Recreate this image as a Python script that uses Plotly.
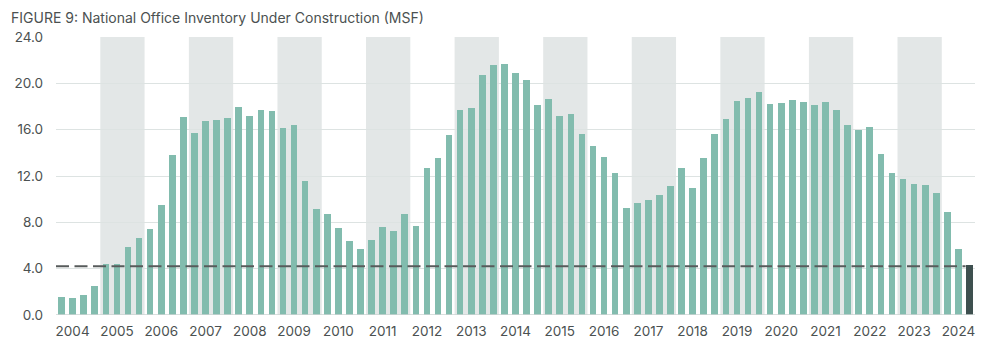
import plotly.graph_objects as go

title = "FIGURE 9: National Office Inventory Under Construction (MSF)"
years = list(range(2004, 2025))
quarters = [f"{y} Q{q}" for y in years for q in range(1, 5)][:83]
values = [
    1.55, 1.44, 1.70, 2.47,
    4.43, 4.37, 5.86, 6.64,
    7.45, 9.46, 13.85, 17.07,
    15.75, 16.73, 16.87, 17.01,
    17.93, 17.22, 17.73, 17.65,
    16.18, 16.41, 11.55, 9.11,
    8.68, 7.47, 6.38, 5.66,
    6.50, 7.62, 7.22, 8.68,
    7.67, 12.65, 13.57, 15.58,
    17.71, 17.91, 20.75, 21.55,
    21.67, 20.92, 20.32, 18.10,
    18.68, 17.22, 17.36, 15.64,
    14.57, 13.60, 12.30, 9.26,
    9.69, 9.97, 10.40, 11.12,
    12.67, 10.98, 13.57, 15.64,
    16.93, 18.51, 18.77, 19.26,
    18.25, 18.34, 18.53, 18.42,
    18.16, 18.36, 17.71, 16.41,
    15.95, 16.27, 13.91, 12.28,
    11.70, 11.27, 11.24, 10.55,
    8.91, 5.66, 4.28,
]
reference_level = 4.2
y_ticks = [0, 4, 8, 12, 16, 20, 24]
y_tick_labels = ["0.0", "4.0", "8.0", "12.0", "16.0", "20.0", "24.0"]
shaded_years = [2005, 2007, 2009, 2011, 2013, 2015, 2017, 2019, 2021, 2023]

n = len(values)
x = list(range(n))
teal = "#82BCAE"
dark = "#3E504F"
colors = [teal] * (n - 1) + [dark]

fig = go.Figure()
fig.add_trace(go.Bar(
    x=x, y=values, marker=dict(color=colors, line=dict(width=0)),
    width=0.6, hovertext=quarters, showlegend=False,
))

shapes = []
for yr in shaded_years:
    i0 = (yr - 2004) * 4
    shapes.append(dict(type="rect", xref="x", yref="y", x0=i0 - 0.5, x1=i0 + 3.5,
                       y0=0, y1=24, fillcolor="#E3E7E7", line=dict(width=0), layer="below"))
shapes.append(dict(type="line", xref="x", yref="y", x0=-0.5, x1=n - 1.35,
                   y0=reference_level, y1=reference_level,
                   line=dict(color="#575B5B", width=2, dash="13px,5.5px"), layer="above"))
shapes.append(dict(type="line", xref="paper", yref="y", x0=0, x1=1, y0=0, y1=0,
                   line=dict(color="#CDD4D3", width=1.5), layer="above"))

tick_pos = [(yr - 2004) * 4 + 1 for yr in years]
# page body adds an 8px margin; figure size/margins compensate for it
W, H = 977, 348
fig.update_layout(
    width=W, height=H,
    margin=dict(l=48, r=10, t=29, b=41),
    plot_bgcolor="white", paper_bgcolor="white",
    font=dict(family="Inter, Roboto, sans-serif", color="#4B5151", size=13),
    shapes=shapes,
    bargap=0,
    title=dict(text=title, x=3 / W, xanchor="left", y=1 - 5 / H, yanchor="top",
               font=dict(size=14, color="#4B5151")),
    xaxis=dict(range=[-0.5, n - 0.5], tickmode="array", tickvals=tick_pos,
               ticktext=[str(y) for y in years], showgrid=False, zeroline=False,
               ticks="", ticklabelstandoff=6, tickfont=dict(size=13.5), automargin=False),
    yaxis=dict(range=[0, 24], tickmode="array", tickvals=y_ticks, ticktext=y_tick_labels,
               showgrid=True, gridcolor="#DDE3E2", gridwidth=1, zeroline=False,
               ticks="", ticklabelstandoff=12, tickfont=dict(size=13.5), automargin=False),
)
fig.write_html("out.html")
